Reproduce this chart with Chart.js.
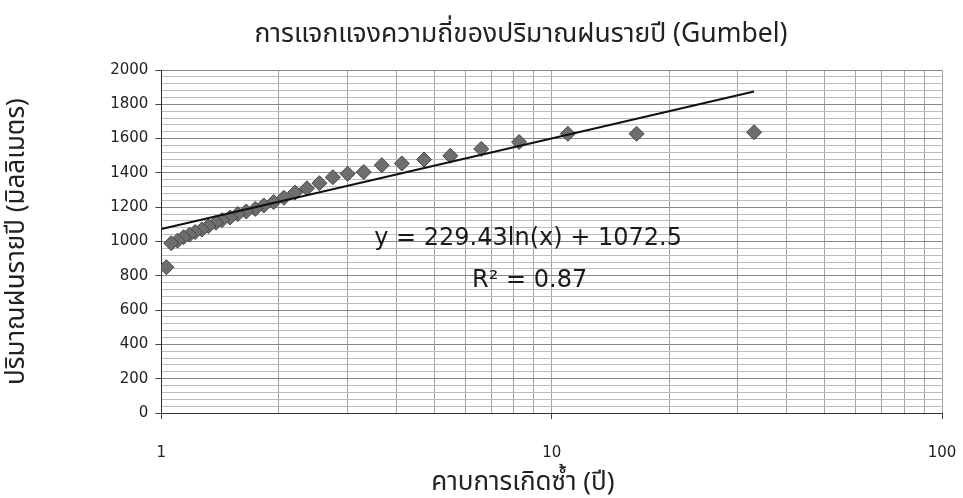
<!DOCTYPE html>
<html>
<head>
<meta charset="utf-8">
<script src="https://cdn.jsdelivr.net/npm/chart.js@4/dist/chart.umd.min.js"></script>
<style>
  html, body { margin: 0; padding: 0; background: #ffffff; }
  canvas { display: block; }
</style>
</head>
<body>
<canvas id="chart" width="963" height="498"></canvas>
<script>
// Return period (years) for each ranked annual rainfall, largest first
const returnPeriods = [33, 16.5, 11, 8.25, 6.6, 5.5, 4.71, 4.13, 3.67, 3.3, 3.0, 2.75,
  2.54, 2.36, 2.2, 2.06, 1.94, 1.83, 1.74, 1.65, 1.57, 1.5, 1.43, 1.38,
  1.32, 1.27, 1.22, 1.18, 1.14, 1.1, 1.06, 1.03];
// Annual rainfall (mm)
const annualRainfall = [1637, 1628, 1628, 1580, 1540, 1500, 1478, 1455, 1445, 1405, 1395, 1375,
  1340, 1310, 1285, 1255, 1230, 1210, 1190, 1175, 1160, 1140, 1125, 1110,
  1090, 1070, 1055, 1040, 1025, 1005, 990, 850];

// Logarithmic trend line y = a ln(x) + b
const trendA = 229.43;
const trendB = 1072.5;
const trendRange = [1, 33];
const trendLabel = 'y = 229.43ln(x) + 1072.5';
const rSquaredLabel = 'R² = 0.87';

// Axis ticks
const xTickValues = [1, 2, 3, 4, 5, 6, 7, 8, 9, 10, 20, 30, 40, 50, 60, 70, 80, 90, 100];
const xTickLabels = [1, 10, 100];
const yMinorStep = 40;
const yLabelStep = 200;
const yMax = 2000;

const titleText = 'การแจกแจงความถี่ของปริมาณฝนรายปี (Gumbel)';
const xTitleText = 'คาบการเกิดซ้ำ (ปี)';
const yTitleText = 'ปริมาณฝนรายปี (มิลลิเมตร)';

const scatterPoints = returnPeriods.map((t, i) => ({ x: t, y: annualRainfall[i] }));
const trendPoints = trendRange.map(x => ({ x: x, y: trendA * Math.log(x) + trendB }));

const yTickValues = [];
for (let v = 0; v <= yMax; v += yMinorStep) yTickValues.push(v);

const thaiFont = "'Noto Sans Thai', 'Noto Sans', 'DejaVu Sans', sans-serif";
const numFont = "'DejaVu Sans', Verdana, sans-serif";
const textColor = '#222222';

// Chart title, x-axis title and the trend equation
const textPlugin = {
  id: 'chartTexts',
  afterDatasetsDraw(chart) {
    const { ctx, scales } = chart;
    ctx.save();
    ctx.fillStyle = textColor;
    ctx.textAlign = 'center';
    ctx.textBaseline = 'middle';

    ctx.font = "26.5px " + thaiFont;
    ctx.fillText(titleText, chart.width * 0.541, 37);

    ctx.font = "26px " + thaiFont;
    ctx.fillText(xTitleText, chart.width * 0.543, 485);

    ctx.fillStyle = '#1a1a1a';
    ctx.font = "24px " + numFont;
    ctx.fillText(trendLabel, scales.x.getPixelForValue(8.7), scales.y.getPixelForValue(1015));
    ctx.fillText(rSquaredLabel, scales.x.getPixelForValue(8.78), scales.y.getPixelForValue(770));
    ctx.restore();
  }
};

new Chart(document.getElementById('chart'), {
  type: 'scatter',
  data: {
    datasets: [
      {
        label: 'ปริมาณฝนรายปี',
        data: scatterPoints,
        pointStyle: 'rectRot',
        pointRadius: 7.5,
        pointHoverRadius: 7.5,
        backgroundColor: '#6e6e6e',
        borderColor: '#454545',
        borderWidth: 1,
        order: 2
      },
      {
        label: 'แนวโน้ม',
        type: 'line',
        data: trendPoints,
        borderColor: '#111111',
        borderWidth: 2,
        pointRadius: 0,
        fill: false,
        order: 1
      }
    ]
  },
  options: {
    responsive: false,
    animation: false,
    devicePixelRatio: 1,
    layout: { padding: { left: 3, right: 21, top: 70, bottom: 11 } },
    plugins: {
      legend: { display: false },
      tooltip: { enabled: false },
      title: { display: false }
    },
    scales: {
      x: {
        type: 'logarithmic',
        min: 1,
        max: 100,
        afterBuildTicks(scale) {
          scale.ticks = xTickValues.map(v => ({ value: v }));
        },
        afterFit(scale) {
          // end labels may overhang the plot edges
          scale.paddingLeft = 0;
          scale.paddingRight = 0;
        },
        ticks: {
          autoSkip: false,
          maxRotation: 0,
          padding: 25,
          color: textColor,
          font: { family: numFont, size: 15 },
          callback: (value) => xTickLabels.includes(value) ? String(value) : ''
        },
        grid: {
          color: '#a4a4a4',
          lineWidth: 1,
          tickLength: 6,
          tickColor: (c) => xTickLabels.includes(c.tick && c.tick.value) ? '#444444' : 'rgba(0,0,0,0)'
        },
        border: { color: '#333333', width: 1 }
      },
      y: {
        type: 'linear',
        min: 0,
        max: yMax,
        afterBuildTicks(scale) {
          scale.ticks = yTickValues.map(v => ({ value: v }));
        },
        ticks: {
          autoSkip: false,
          padding: 7,
          color: textColor,
          font: { family: numFont, size: 15 },
          callback: (value) => value % yLabelStep === 0 ? String(value) : ''
        },
        grid: {
          color: (c) => (c.tick && c.tick.value % yLabelStep === 0) ? '#888888' : '#bcbcbc',
          lineWidth: 1,
          tickLength: 6,
          tickColor: (c) => (c.tick && c.tick.value % yLabelStep === 0) ? '#444444' : 'rgba(0,0,0,0)'
        },
        border: { color: '#333333', width: 1 },
        title: {
          display: true,
          text: yTitleText,
          color: textColor,
          font: { family: thaiFont, size: 26, weight: 'normal' },
          padding: { top: 0, bottom: 69 }
        }
      }
    }
  },
  plugins: [textPlugin]
});
</script>
</body>
</html>
